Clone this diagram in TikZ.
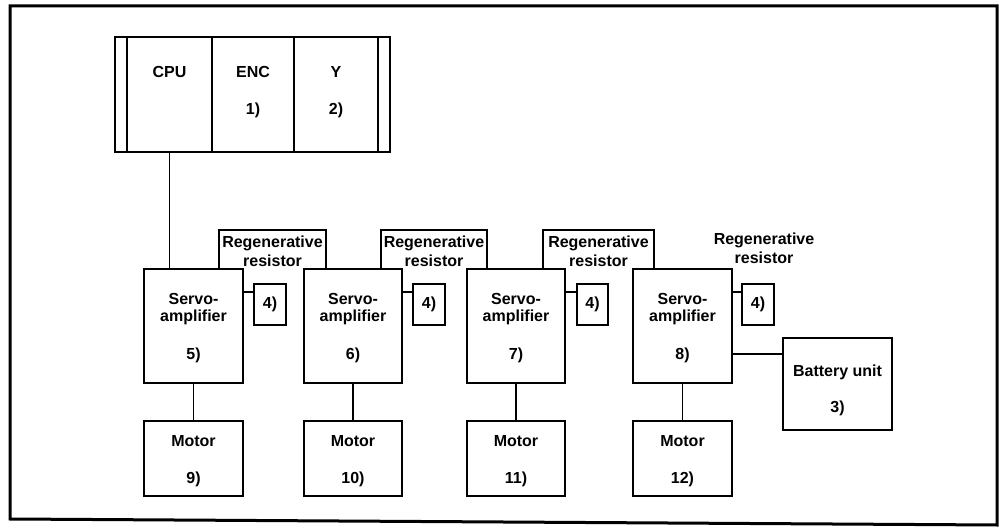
\documentclass[tikz,border=0pt]{standalone}
\usepackage{fontspec}
\setmainfont{Liberation Sans}
\begin{document}
\begin{tikzpicture}[x=1pt,y=-1pt,
  bx/.style={draw,line width=1.6pt,inner sep=0pt,outer sep=0pt},
  ln/.style={line width=1.6pt},
  txt/.style={inner sep=0pt,font=\fontsize{16}{19}\selectfont\bfseries}]
\useasboundingbox (0,0) rectangle (999,529);
% outer frame
\draw[line width=3pt] (10,6) -- (997,6) -- (997,525) -- (10,519) -- cycle;
% PLC rack
\node[bx,minimum width=275,minimum height=115] (plc) at (252.5,94.5) {};
\node[bx,minimum width=85,minimum height=115] (cpu) at (169.5,94.5) {};
\node[bx,minimum width=82,minimum height=115] (enc) at (253,94.5) {};
\node[bx,minimum width=84,minimum height=115] (ymod) at (336,94.5) {};
\node[txt] (cput) at (169.5,72) {CPU};
\node[txt] (enct) at (253,72) {ENC};
\node[txt] (encn) at (253,110) {1)};
\node[txt] (ymt) at (336,72) {Y};
\node[txt] (ymn) at (336,110) {2)};
% regenerative resistor boxes (open at the bottom)
\foreach \i/\L/\R in {1/219/326,2/381/487,3/543/654}{
  \draw[ln] (\L,269) |- (\R,230) -- (\R,269);
  \node[txt] (rg\i a) at ({(\L+\R)/2},243) {Regenerative};
  \node[txt] (rg\i b) at ({(\L+\R)/2},261) {resistor};
}
\node[txt] (rg4a) at (764,240) {Regenerative};
\node[txt] (rg4b) at (764,258) {resistor};
% servo amplifiers, resistors 4), motors
\foreach \i/\L/\R/\sn/\mn/\fL/\fR in {1/144/243/5)/9)/254/286,2/304/402/6)/10)/413/445,3/467/565/7)/11)/577/608,4/633/732/8)/12)/742/774}{
  \node[bx,fill=white,minimum width={\R-\L},minimum height=114] (sa\i) at ({(\L+\R)/2},326) {};
  \node[txt] (sa\i a) at ({(\L+\R)/2},299) {Servo-};
  \node[txt] (sa\i b) at ({(\L+\R)/2},317) {amplifier};
  \node[txt] (sa\i c) at ({(\L+\R)/2},355) {\sn};
  \node[bx,minimum width={\fR-\fL},minimum height=41] (f\i) at ({(\fL+\fR)/2},304.5) {};
  \node[txt] (f\i t) at ({(\fL+\fR)/2},304.5) {4)};
  \coordinate (c\i) at (\R,292);
  \draw[ln] (c\i) -- (c\i -| f\i.west);
  \node[bx,minimum width={\R-\L},minimum height=75] (mo\i) at ({(\L+\R)/2},458.5) {};
  \node[txt] (mo\i a) at ({(\L+\R)/2},441) {Motor};
  \node[txt] (mo\i b) at ({(\L+\R)/2},479) {\mn};
  \draw[ln] (sa\i) -- (mo\i);
}
% CPU to first servo
\draw[ln] (cpu.south) -- (cpu.south |- sa1.north);
% battery unit
\node[bx,minimum width=109,minimum height=92] (bat) at (837.5,384) {};
\node[txt] (bata) at (837.5,372) {Battery unit};
\node[txt] (batb) at (837.5,408) {3)};
\coordinate (bc) at (732,354);
\draw[ln] (bc) -- (bc -| bat.west);
\end{tikzpicture}
\end{document}
